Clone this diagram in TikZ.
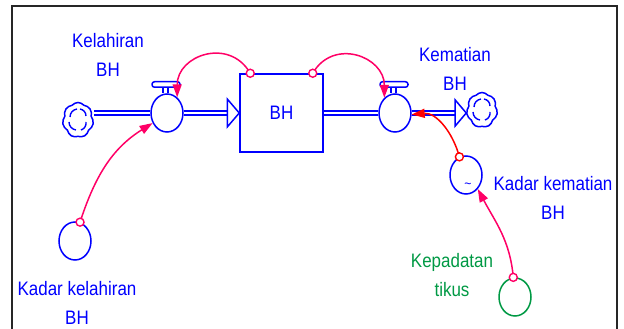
\documentclass[tikz,border=0pt]{standalone}
\usepackage{fontspec}
\setmainfont{Liberation Sans}[FakeStretch=0.87]
\usepackage{tikz}
\usetikzlibrary{arrows.meta,shapes.geometric,shapes.symbols,calc}
\definecolor{flowblue}{HTML}{0000FF}
\definecolor{linkpink}{HTML}{FF0066}
\definecolor{linkred}{HTML}{FF0000}
\definecolor{auxgreen}{HTML}{009944}

\begin{document}
\begin{tikzpicture}[x=1pt, y=1pt,
  lbl/.style={align=center, text=flowblue, inner sep=0pt,
    font=\fontsize{19.5}{28.5}\selectfont},
  stockbox/.style={draw=flowblue, line width=1.5pt, minimum width=83pt,
    minimum height=78pt, inner sep=0pt, text=flowblue,
    font=\fontsize{19.5}{28.5}\selectfont},
  valve/.style={ellipse, draw=flowblue, line width=1.5pt, fill=white,
    minimum width=32pt, minimum height=38pt, inner sep=0pt},
  aux/.style={ellipse, draw=flowblue, line width=1.5pt,
    minimum width=32pt, minimum height=38pt, inner sep=0pt},
  sink/.style={cloud, cloud puffs=7, cloud puff arc=100, aspect=0.85,
    draw=flowblue, line width=1.5pt, minimum width=31pt,
    minimum height=35pt, inner sep=0pt},
  pipe/.style={draw=flowblue, line width=1.5pt, double=white,
    double distance=2.6pt},
  pipehead/.style={draw=flowblue, fill=white, line width=1.5pt},
  link/.style={draw=linkpink, line width=1.5pt,
    -{Triangle[length=13pt, width=9pt]}},
  tail/.style={circle, draw=linkpink, fill=white, line width=1.4pt,
    minimum size=8pt, inner sep=0pt},
  valvecap/.pic={
    \draw[flowblue, line width=1.4pt] (-4,0) -- (-4,6) (1,0) -- (1,6);
    \draw[flowblue, line width=1.5pt, rounded corners=2.5pt]
      (-15,6) rectangle (13,11.5);
  },
  swirl/.pic={
    \draw[flowblue, line width=1.4pt] (-1,11) to[bend right=40] (-8,3);
    \draw[flowblue, line width=1.4pt] (-9,-2) to[bend right=40] (-2,-10);
    \draw[flowblue, line width=1.4pt] (3,-10) to[bend right=40] (8,-2);
    \draw[flowblue, line width=1.4pt] (8,4) to[bend right=40] (2,11);
  }
]
  \useasboundingbox (0,0) rectangle (624,329);
  \draw[line width=2.2pt, black!85] (12,-3) -- (12,323) -- (617,323) -- (617,-3);

  % stock and flows
  \node[stockbox] (stock) at (281.5,216) {BH};
  \node[valve] (valveL) at (167,216) {};
  \node[valve] (valveR) at (395,216) {};
  \node[sink] (cloudL) at (78,209) {};
  \node[sink] (cloudR) at (482,219) {};
  \pic at (cloudL.center) {swirl};
  \pic at (cloudR.center) {swirl};
  \pic at (valveL.north) {valvecap};
  \pic at (valveR.north) {valvecap};

  \draw[pipe] (valveL.west -| cloudL.east) -- (valveL.west);
  \draw[pipe] (valveL.east) -- ([xshift=-12pt]stock.west);
  \draw[pipehead] (stock.west) -- ++(-12,14) -- ++(0,-28) -- cycle;
  \draw[pipe] (stock.east) -- (valveR.west);
  \draw[pipe] (valveR.east) -- ([xshift=-11pt]valveR.east -| cloudR.west);
  \draw[pipehead] (valveR.east -| cloudR.west) -- ++(-11,13) -- ++(0,-26) -- cycle;

  % auxiliaries
  \node[aux] (kkel) at (75,88) {};
  \node[aux] (kmat) at (466,154) {};
  \node[font=\fontsize{14}{14}\selectfont, text=flowblue, inner sep=0pt]
    (kmattilde) at ([shift={(2,9)}]kmat.south) {\textasciitilde};
  \node[aux, draw=auxgreen] (kep) at (515,32) {};

  % labels
  \node[lbl] (lblahir) at (108,274) {Kelahiran\\BH};
  \node[lbl] (lmati) at (455,260) {Kematian\\BH};
  \node[lbl] (lkkel) at (77,26) {Kadar kelahiran\\BH};
  \node[lbl] (lkmat) at (553,131) {Kadar kematian\\BH};
  \node[lbl, text=auxgreen] (lkep) at (452,54) {Kepadatan\\tikus};

  % connectors
  \draw[link] ([xshift=11pt]stock.north west) node[tail] {}
    to[out=120, in=90, looseness=1.4] (valveL.57);
  \draw[link] ([xshift=-11pt]stock.north east) node[tail] {}
    to[out=60, in=90, looseness=1.4] (valveR.125);
  \draw[link] (kkel.75) node[tail] {}
    to[out=72, in=212] (valveL.215);
  \draw[link, draw=linkred, -{Triangle[length=13pt, width=9pt]}] (kmat.110)
    node[tail, draw=linkred] {} to[out=105, in=5] (valveR.-5);
  \draw[link] (kep.95) node[tail] {}
    to[out=95, in=-62] (kmat.-50);
\end{tikzpicture}
\end{document}
